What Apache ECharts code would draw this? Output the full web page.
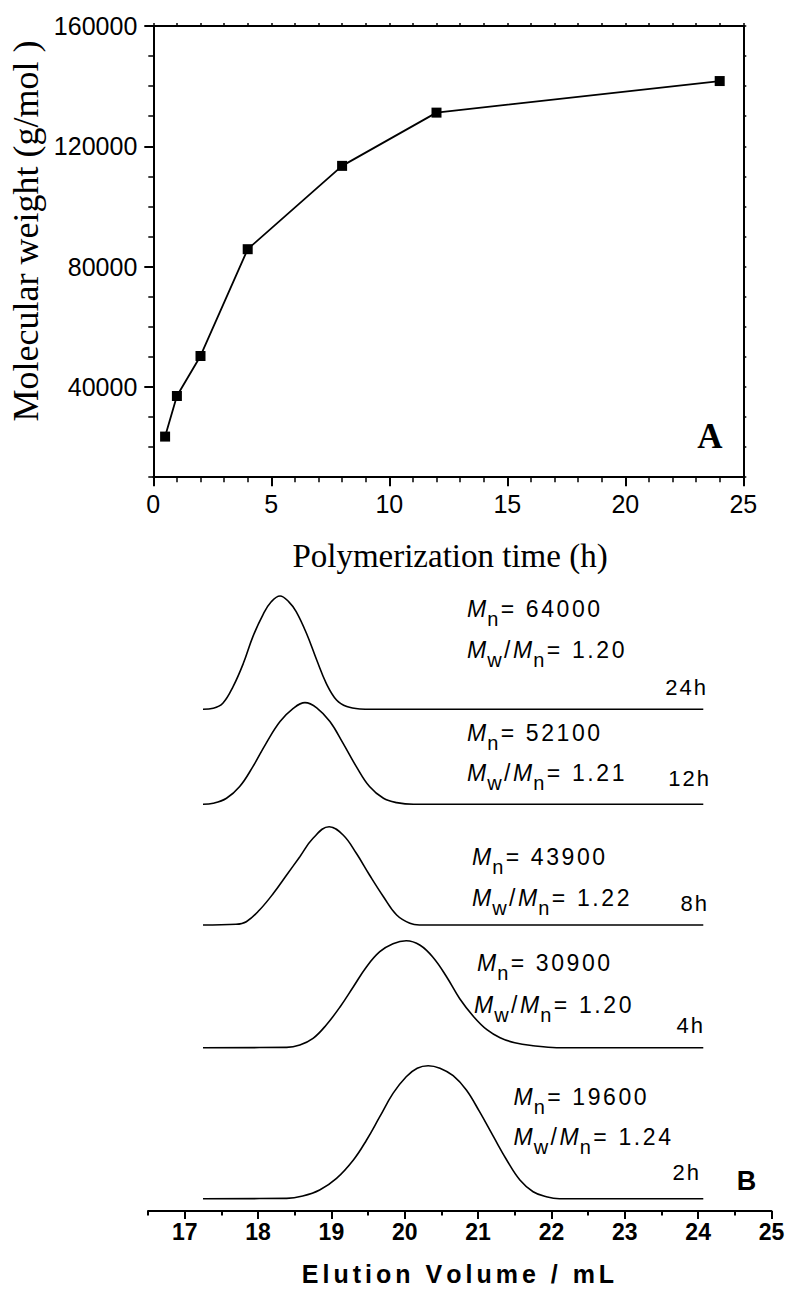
<!DOCTYPE html>
<html><head><meta charset="utf-8">
<script src="https://cdn.jsdelivr.net/npm/echarts@6/dist/echarts.min.js"></script>
<style>html,body{margin:0;padding:0;background:#fff}#c{width:787px;height:1289px}</style>
</head><body><div id="c"></div>
<script>
// ---- Panel A : molecular weight vs polymerization time ----
const timeH = [0.5, 1, 2, 4, 8, 12, 24];
const molWeight = [23500, 37000, 50300, 85800, 113500, 131200, 141700];
const yTicksA = [40000, 80000, 120000, 160000];

// ---- Panel B : GPC traces [elution volume (mL), detector response above own baseline] ----
const traceLabels = ['24h', '12h', '8h', '4h', '2h'];
const mnValues = ['64000', '52100', '43900', '30900', '19600'];
const pdiValues = ['1.20', '1.21', '1.22', '1.20', '1.24'];
const traceOffsets = [501.7, 406.7, 286, 163.3, 12.3];
const trace24h = [[17.25,0],[17.39,1],[17.52,6],[17.66,22.7],[17.80,46],[17.93,72.7],[18.07,95],[18.18,107.5],[18.30,113.3],[18.42,107.5],[18.52,97.7],[18.66,76],[18.80,49.3],[18.93,26],[19.07,9.3],[19.21,2.7],[19.39,0.3],[19.55,0],[24.07,0]];
const trace12h = [[17.25,0],[17.39,1],[17.57,6],[17.75,17.7],[17.93,37.7],[18.11,61],[18.30,82.7],[18.48,96],[18.64,101.7],[18.80,96.5],[18.98,82.7],[19.16,61],[19.34,37.7],[19.52,17.7],[19.71,6],[19.89,1.7],[20.12,0],[24.07,0]];
const trace8h = [[17.25,0],[17.70,0.7],[17.84,3.3],[18.02,15],[18.21,31.7],[18.39,50],[18.57,68.3],[18.75,86.7],[18.97,98.3],[19.16,90],[19.34,71.7],[19.52,50],[19.71,28.3],[19.89,10],[20.07,1.7],[20.2,0],[24.07,0]];
const trace4h = [[17.25,0],[18.39,0.3],[18.57,2.7],[18.75,9.3],[18.93,22.7],[19.12,41],[19.30,61],[19.48,81],[19.66,96],[19.84,104],[20.02,107],[20.21,102.5],[20.39,90],[20.57,71],[20.75,49],[20.94,31],[21.12,18],[21.3,10],[21.5,5],[21.75,2],[22.07,0],[24.07,0]];
const trace2h = [[17.25,0],[18.39,0.3],[18.61,2.7],[18.84,8.7],[19.07,20.3],[19.30,38.7],[19.48,58.7],[19.66,82],[19.84,105.3],[20.02,122],[20.17,130.5],[20.32,133],[20.48,130.5],[20.66,123],[20.84,108.7],[21.02,87],[21.21,62],[21.39,38.7],[21.57,18.7],[21.75,7],[21.93,2],[22.11,0],[24.07,0]];
const traces = [trace24h, trace12h, trace8h, trace4h, trace2h];
const xTicksB = [17, 18, 19, 20, 21, 22, 23, 24, 25];

// ---- layout (pixels) ----
const annotLayout = [
  {mx: 467, my: 608.5, wx: 467, wy: 650, hx: 708, hy: 687.5},
  {mx: 467, my: 733, wx: 467, wy: 773.3, hx: 711, hy: 778.7},
  {mx: 472, my: 856.5, wx: 472, wy: 897.8, hx: 709, hy: 903.3},
  {mx: 477, my: 963.3, wx: 474, wy: 1004.8, hx: 705, hy: 1025.5},
  {mx: 513.5, my: 1096.5, wx: 513.5, wy: 1136.5, hx: 701, hy: 1172.8}
];

const SANS = 'Liberation Sans', SERIF = 'Liberation Serif';
function sp(str, st) { return str.split('').map(c => '{' + st + '|' + c + '}').join(''); }
const annRich = {
  it: {fontFamily: SANS, fontStyle: 'italic', fontSize: 23, lineHeight: 40, padding: [0, 1, 0, 0], fill: '#000'},
  sub: {fontFamily: SANS, fontSize: 20, verticalAlign: 'bottom', padding: [0, 2.5, 0, 0], fill: '#000'},
  t: {fontFamily: SANS, fontSize: 23, lineHeight: 40, padding: [0, 2.6, 0, 0], fill: '#000'},
  h: {fontFamily: SANS, fontSize: 22, lineHeight: 30, padding: [0, 2, 0, 0], fill: '#000'}
};
function txt(x, y, text, rich, align, extra) {
  return Object.assign({
    type: 'text', x: x, y: y, silent: true,
    style: {text: text, rich: rich, fill: '#000', align: align || 'left', verticalAlign: 'middle',
            textAlign: align || 'left', textVerticalAlign: 'middle'}
  }, extra || {});
}
const graphics = [];
traces.forEach((t, i) => {
  const L = annotLayout[i];
  graphics.push(txt(L.mx, L.my, '{it|M}' + sp('n', 'sub') + sp('= ' + mnValues[i], 't'), annRich));
  graphics.push(txt(L.wx, L.wy, '{it|M}' + sp('w', 'sub') + sp('/', 't') + '{it|M}' + sp('n', 'sub') + sp('= ' + pdiValues[i], 't'), annRich));
  graphics.push(txt(L.hx, L.hy, sp(traceLabels[i], 'h'), annRich, 'right'));
});
graphics.push({type: 'text', x: 26, y: 231, rotation: Math.PI / 2, silent: true,
  style: {text: 'Molecular weight (g/mol )', font: '36px "' + SERIF + '"', fill: '#000', align: 'center', verticalAlign: 'middle', textAlign: 'center', textVerticalAlign: 'middle'}});
graphics.push({type: 'text', x: 450, y: 556, silent: true,
  style: {text: 'Polymerization time (h)', font: '33px "' + SERIF + '"', fill: '#000', align: 'center', verticalAlign: 'middle', textAlign: 'center', textVerticalAlign: 'middle'}});
graphics.push({type: 'text', x: 710, y: 436, silent: true,
  style: {text: 'A', font: 'bold 35px "' + SERIF + '"', fill: '#000', align: 'center', verticalAlign: 'middle', textAlign: 'center', textVerticalAlign: 'middle'}});
graphics.push({type: 'text', x: 746.5, y: 1181, silent: true,
  style: {text: 'B', font: 'bold 27px "' + SANS + '"', fill: '#000', align: 'center', verticalAlign: 'middle', textAlign: 'center', textVerticalAlign: 'middle'}});
graphics.push(txt(460, 1274, sp('Elution Volume / mL', 'e'),
  {e: {fontFamily: SANS, fontWeight: 'bold', fontSize: 25, lineHeight: 30, padding: [0, 4, 0, 0], fill: '#000'}}, 'center'));

const black = {color: '#000', width: 2};
const plain = v => String(v);
const chart = echarts.init(document.getElementById('c'), null, {renderer: 'svg'});
chart.setOption({
  backgroundColor: '#fff',
  animation: false,
  grid: [
    {left: 153.3, width: 590, top: 26, height: 451.2, outerBoundsMode: 'none', containLabel: false},
    {left: 148, right: 15.5, top: 591, height: 620, outerBoundsMode: 'none', containLabel: false}
  ],
  xAxis: [
    {gridIndex: 0, type: 'value', position: 'bottom', min: 0, max: 25, interval: 5,
     axisLine: {show: true, onZero: false, lineStyle: black},
     axisTick: {show: true, length: 9, lineStyle: black},
     minorTick: {show: true, splitNumber: 5, length: 5, lineStyle: {color: '#000', width: 1.5}},
     axisLabel: {show: true, formatter: plain, fontFamily: SANS, fontSize: 25, color: '#000', margin: 14},
     splitLine: {show: false}, minorSplitLine: {show: false}},
    {gridIndex: 0, type: 'value', position: 'top', min: 0, max: 25, interval: 5,
     axisLine: {show: true, onZero: false, lineStyle: black},
     axisTick: {show: true, length: 3, lineStyle: {color: '#000', width: 1.5}},
     minorTick: {show: true, splitNumber: 5, length: 3, lineStyle: {color: '#000', width: 1.5}},
     axisLabel: {show: false}, splitLine: {show: false}},
    {gridIndex: 1, type: 'value', position: 'bottom', min: 16.5, max: 25,
     axisLine: {show: true, onZero: false, lineStyle: black},
     axisTick: {show: true, length: 8, lineStyle: black, customValues: xTicksB},
     axisLabel: {show: true, customValues: xTicksB, formatter: plain, fontFamily: SANS, fontWeight: 'bold', fontSize: 23, color: '#000', margin: 9},
     splitLine: {show: false}},
    {gridIndex: 1, type: 'value', position: 'bottom', min: 16.5, max: 25,
     axisLine: {show: false, onZero: false},
     axisTick: {show: true, length: 4.5, lineStyle: black, customValues: xTicksB.map(v => v - 0.5)},
     axisLabel: {show: false}, splitLine: {show: false}}
  ],
  yAxis: [
    {gridIndex: 0, type: 'value', position: 'left', min: 10000, max: 160000, interval: 10000,
     axisLine: {show: true, onZero: false, lineStyle: black},
     axisTick: {show: true, length: 9, lineStyle: black, customValues: yTicksA},
     axisLabel: {show: true, customValues: yTicksA, formatter: plain, fontFamily: SANS, fontSize: 25, color: '#000', margin: 16},
     splitLine: {show: false}},
    {gridIndex: 0, type: 'value', position: 'left', min: 10000, max: 160000, interval: 10000,
     axisLine: {show: false, onZero: false},
     axisTick: {show: true, length: 5, lineStyle: {color: '#000', width: 1.5}},
     axisLabel: {show: false}, splitLine: {show: false}},
    {gridIndex: 0, type: 'value', position: 'right', min: 10000, max: 160000, interval: 10000,
     axisLine: {show: true, onZero: false, lineStyle: black},
     axisTick: {show: true, length: 3, lineStyle: {color: '#000', width: 1.5}},
     axisLabel: {show: false}, splitLine: {show: false}},
    {gridIndex: 1, type: 'value', min: 0, max: 620, show: false}
  ],
  series: [
    {type: 'line', xAxisIndex: 0, yAxisIndex: 0,
     data: timeH.map((t, i) => [t, molWeight[i]]),
     symbol: 'rect', symbolSize: 10, showSymbol: true,
     itemStyle: {color: '#000'}, lineStyle: {color: '#000', width: 1.8}, z: 5}
  ].concat(traces.map((tr, i) => ({
     type: 'line', xAxisIndex: 2, yAxisIndex: 3, name: traceLabels[i],
     data: tr.map(p => [p[0], p[1] + traceOffsets[i]]),
     showSymbol: false, symbol: 'none', smooth: 0.4,
     lineStyle: {color: '#000', width: 1.6}
  }))),
  graphic: graphics
});
</script></body></html>
